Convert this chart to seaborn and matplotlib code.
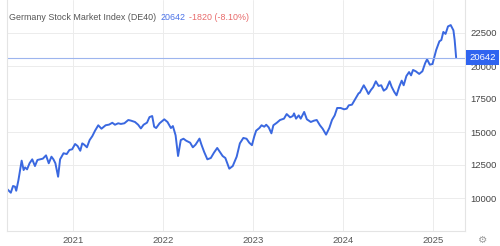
import matplotlib
matplotlib.use("Agg")
import matplotlib.pyplot as plt
import matplotlib.dates as mdates
import seaborn as sns
import pandas as pd

dates = [
    "2020-04-08", "2020-04-22", "2020-05-01", "2020-05-09", "2020-05-14", "2020-05-23",
    "2020-06-05", "2020-06-13", "2020-06-19", "2020-06-27", "2020-07-07", "2020-07-18",
    "2020-07-29", "2020-08-08", "2020-08-19", "2020-08-30", "2020-09-12", "2020-09-23",
    "2020-10-04", "2020-10-12", "2020-10-20", "2020-10-31", "2020-11-08", "2020-11-22",
    "2020-12-05", "2020-12-16", "2020-12-27", "2021-01-08", "2021-01-18", "2021-01-29",
    "2021-02-06", "2021-02-14", "2021-02-25", "2021-03-08", "2021-03-19", "2021-03-30",
    "2021-04-12", "2021-04-25", "2021-05-12", "2021-05-26", "2021-06-08", "2021-06-19",
    "2021-07-02", "2021-07-13", "2021-07-27", "2021-08-12", "2021-08-23", "2021-09-08",
    "2021-09-21", "2021-10-02", "2021-10-13", "2021-10-27", "2021-11-06", "2021-11-17",
    "2021-11-25", "2021-12-03", "2021-12-17", "2022-01-05", "2022-01-18", "2022-02-01",
    "2022-02-09", "2022-02-20", "2022-03-02", "2022-03-13", "2022-03-24", "2022-04-04",
    "2022-04-20", "2022-05-01", "2022-05-12", "2022-05-28", "2022-06-05", "2022-06-16",
    "2022-06-29", "2022-07-13", "2022-07-26", "2022-08-08", "2022-08-19", "2022-08-30",
    "2022-09-10", "2022-09-26", "2022-10-10", "2022-10-26", "2022-11-08", "2022-11-22",
    "2022-12-05", "2022-12-16", "2022-12-27", "2023-01-05", "2023-01-13", "2023-01-26",
    "2023-02-04", "2023-02-15", "2023-02-23", "2023-03-05", "2023-03-16", "2023-03-24",
    "2023-04-07", "2023-04-20", "2023-05-06", "2023-05-17", "2023-05-31", "2023-06-11",
    "2023-06-16", "2023-06-24", "2023-07-05", "2023-07-13", "2023-07-27", "2023-08-07",
    "2023-08-23", "2023-09-05", "2023-09-16", "2023-09-29", "2023-10-10", "2023-10-24",
    "2023-11-06", "2023-11-17", "2023-11-28", "2023-12-08", "2023-12-22", "2024-01-05",
    "2024-01-16", "2024-01-24", "2024-02-06", "2024-02-20", "2024-03-04", "2024-03-09",
    "2024-03-25", "2024-04-05", "2024-04-13", "2024-04-23", "2024-05-02", "2024-05-13",
    "2024-05-24", "2024-06-04", "2024-06-14", "2024-06-25", "2024-07-08", "2024-07-16",
    "2024-07-27", "2024-08-05", "2024-08-16", "2024-08-26", "2024-09-03", "2024-09-14",
    "2024-09-25", "2024-10-03", "2024-10-11", "2024-10-22", "2024-11-05", "2024-11-18",
    "2024-11-29", "2024-12-07", "2024-12-18", "2024-12-29", "2025-01-13", "2025-01-26",
    "2025-02-03", "2025-02-11", "2025-02-20", "2025-03-02", "2025-03-13", "2025-03-24",
    "2025-03-29", "2025-04-04",
]
values = [
    10660, 10400, 10910, 10860, 10550, 11360,
    12830, 12120, 12320, 12170, 12630, 12930,
    12420, 12880, 12930, 12980, 13230, 12630,
    13130, 12930, 12630, 11610, 12930, 13390,
    13330, 13640, 13690, 14090, 13940, 13580,
    14140, 14040, 13840, 14390, 14690, 15100,
    15510, 15250, 15510, 15560, 15700, 15550,
    15660, 15610, 15660, 15910, 15860, 15760,
    15550, 15270, 15550, 15710, 16130, 16210,
    15400, 15300, 15660, 15960, 15760, 15300,
    15450, 14750, 13180, 14390, 14490, 14340,
    14190, 13840, 14040, 14500, 14040, 13490,
    12930, 13030, 13440, 13790, 13490, 13180,
    13030, 12220, 12420, 13130, 14140, 14550,
    14490, 14190, 14000, 14640, 15100, 15300,
    15510, 15400, 15550, 15350, 14900, 15510,
    15700, 15910, 16010, 16360, 16110, 16210,
    16410, 16010, 16260, 16010, 16520, 15960,
    15760, 15860, 15910, 15510, 15250, 14800,
    15300, 15910, 16260, 16820, 16820, 16720,
    16770, 17020, 17070, 17520, 17930, 17980,
    18540, 18180, 17880, 18180, 18390, 18840,
    18490, 18540, 18130, 18280, 18840, 18430,
    18030, 17780, 18430, 18890, 18540, 19240,
    19540, 19290, 19700, 19600, 19400, 19600,
    20200, 20510, 20100, 20150, 21210, 21870,
    21970, 22580, 22430, 23000, 23100, 22700,
    21970, 20642,
]
title_text = "Germany Stock Market Index (DE40)"
last_text = "20642"
change_text = "-1820 (-8.10%)"
y_ticks = [10000, 12500, 15000, 17500, 20000, 22500]
x_tick_years = [2021, 2022, 2023, 2024, 2025]
last_value = 20642

sns.set_theme(style="white")
plt.rcParams["font.family"] = ["Liberation Sans", "DejaVu Sans"]

df = pd.DataFrame({"date": pd.to_datetime(dates), "value": values})

W, H = 500, 246
fig = plt.figure(figsize=(W / 100, H / 100), dpi=100)
ax = fig.add_axes([7 / W, (H - 231) / H, (465 - 7) / W, 231 / H])

sns.lineplot(data=df, x="date", y="value", ax=ax, color="#3a68e0", linewidth=1.4)

ax.set_ylim(7500, 25000)
ax.set_xlim(mdates.date2num(pd.Timestamp("2020-04-08")) - 1.5,
            mdates.date2num(pd.Timestamp("2025-05-10")))

ax.set_yticks(y_ticks)
ax.set_yticklabels([str(v) for v in y_ticks])
ax.yaxis.tick_right()
ax.set_xticks([mdates.date2num(pd.Timestamp(f"{y}-01-01")) for y in x_tick_years])
ax.set_xticklabels([str(y) for y in x_tick_years])
ax.tick_params(axis="y", length=0, pad=4, labelsize=6.8, labelcolor="#444444")
ax.tick_params(axis="x", length=0, pad=3.5, labelsize=6.8, labelcolor="#555555")
ax.set_xlabel("")
ax.set_ylabel("")

ax.grid(True, color="#ececec", linewidth=0.7)
for side in ["left", "right", "bottom"]:
    ax.spines[side].set_color("#e4e4e4")
    ax.spines[side].set_linewidth(0.8)
ax.spines["top"].set_visible(False)

ax.axhline(last_value, color="#9db5ee", linewidth=0.8)

# last-value box
ax.annotate(last_text, xy=(1.0, last_value), xycoords=("axes fraction", "data"),
            xytext=(3.0, 0), textcoords="offset points", va="center", ha="left",
            fontsize=6.8, color="white",
            bbox=dict(boxstyle="square,pad=0.3", fc="#2f64f0", ec="none"),
            annotation_clip=False)

# header: three pieces placed one after another
ty = 1 - 17 / H
fig.canvas.draw()
renderer = fig.canvas.get_renderer()
x_px = 9
pieces = [(title_text, "#555555"), (last_text, "#4a72e8"), (change_text, "#e86a6a")]
for txt, col in pieces:
    t = fig.text(x_px / W, ty, txt, fontsize=6.4, color=col, va="center", ha="left")
    bb = t.get_window_extent(renderer=renderer)
    x_px = bb.x1 + 4

fig.text(483 / W, 1 - 240 / H, "\u2699", fontsize=7.5, color="#9a9a9a",
         va="center", ha="center", family=["DejaVu Sans"])

fig.savefig("out.png", dpi=100)
